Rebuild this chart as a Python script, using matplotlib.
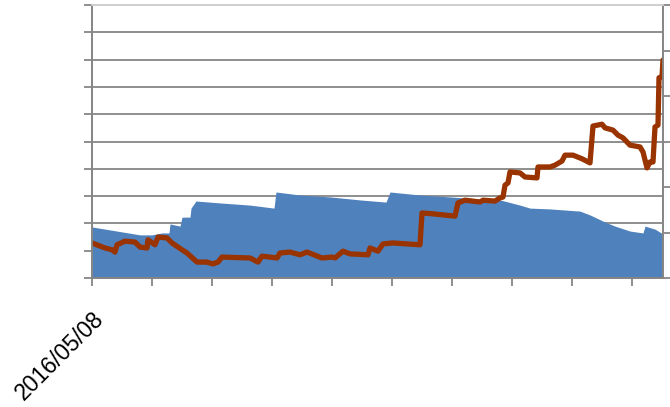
import matplotlib
matplotlib.use("Agg")
import matplotlib.pyplot as plt

# area series (left axis), breakpoints
area_day = [0, 24, 30, 35, 38.5, 39, 44, 45, 49, 49.5, 52, 64, 79, 91, 92, 104,
            119, 134, 147, 149, 164, 179, 194, 204, 214, 219, 229, 244, 249,
            256.5, 261.5, 269, 275.5, 276.5, 281.5, 285.5]
area_val = [1.87, 1.58, 1.58, 1.65, 1.65, 1.98, 1.90, 2.23, 2.23, 2.56, 2.82,
            2.75, 2.67, 2.56, 3.15, 3.04, 2.97, 2.86, 2.78, 3.15, 3.04, 2.97,
            2.89, 2.86, 2.67, 2.56, 2.53, 2.45, 2.31, 2.05, 1.90, 1.72, 1.65,
            1.90, 1.79, 1.61]

# line series (right axis)
line_day = [0, 6.5, 10, 11.5, 12.5, 16.5, 21.5, 24, 27.5, 28, 31.5, 33, 37.5,
            40, 45, 47.5, 52.5, 57.5, 60.5, 63, 65, 79, 83, 85, 92.5, 94, 99,
            104, 107.5, 115, 120, 121.5, 125.5, 129, 138, 139, 143, 145.5,
            150.5, 164, 165, 170.5, 181.5, 183, 186.5, 194, 195.5, 201.5, 204,
            205.5, 206.5, 208, 209, 214, 216.5, 222.5, 223, 229, 231.5, 235,
            236.5, 240.5, 245, 249, 250.5, 255, 256.5, 260.5, 263, 265.5, 269,
            274, 275.5, 277.5, 279, 280.5, 281.5, 283, 283.5, 285, 285.5]
line_val = [0.77, 0.66, 0.62, 0.57, 0.73, 0.81, 0.79, 0.68, 0.66, 0.84, 0.73,
            0.90, 0.88, 0.77, 0.62, 0.55, 0.35, 0.35, 0.31, 0.35, 0.46, 0.44,
            0.35, 0.48, 0.44, 0.55, 0.57, 0.51, 0.57, 0.44, 0.46, 0.44, 0.59,
            0.53, 0.51, 0.66, 0.59, 0.75, 0.77, 0.73, 1.43, 1.41, 1.36, 1.65,
            1.71, 1.67, 1.71, 1.69, 1.76, 1.78, 2.04, 2.09, 2.33, 2.31, 2.22,
            2.20, 2.44, 2.44, 2.48, 2.57, 2.70, 2.70, 2.62, 2.53, 3.34, 3.38,
            3.30, 3.25, 3.14, 3.08, 2.92, 2.88, 2.77, 2.42, 2.55, 2.55, 3.32,
            3.36, 4.40, 4.42, 4.79]

x_ticks = [0, 30, 60, 90, 120, 150, 180, 210, 240, 270]
x_labels = ["2016/05/08", "", "", "", "", "", "", "", "", ""]

grey = "#868686"

fig = plt.figure(figsize=(6.7, 4.07), dpi=100)
ax = fig.add_axes([92 / 670, 129 / 407, 571 / 670, 273 / 407])
ax2 = ax.twinx()

ax.set_axisbelow(True)
ax.fill_between(area_day, area_val, 0, color="#4F81BD", linewidth=0)
ax.set_xlim(0, 285.5)
ax.set_ylim(0, 10)
ax.set_yticks(range(0, 11))
ax.set_yticklabels([])
ax.grid(axis="y", color=grey, linewidth=1.3)
ax.set_xticks(x_ticks)
ax.set_xticklabels(x_labels, rotation=45, ha="right", rotation_mode="anchor",
                   fontsize=16.5, family="Liberation Sans")

ax2.plot(line_day, line_val, color="#993300", linewidth=3.8,
         solid_joinstyle="round", solid_capstyle="round")
ax2.set_ylim(0, 6)
ax2.set_yticks(range(0, 7))
ax2.set_yticklabels([])

for a in (ax, ax2):
    for s in a.spines.values():
        s.set_color(grey)
        s.set_linewidth(1.3)
    a.tick_params(color=grey, width=1.3, length=6)
ax2.spines["top"].set_color("#d0d0d0")
ax.spines["top"].set_color("#d0d0d0")
ax.tick_params(axis="x", pad=15)

fig.savefig("out.png", dpi=100)
